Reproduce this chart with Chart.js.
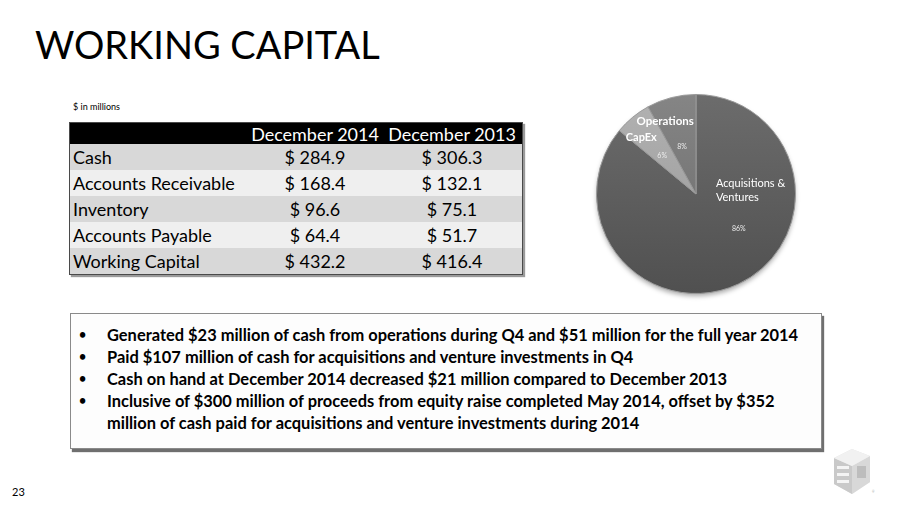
<!DOCTYPE html>
<html>
<head>
<meta charset="utf-8">
<script src="https://cdn.jsdelivr.net/npm/chart.js@4.4.1/dist/chart.umd.min.js"></script>
<style>
html, body { margin: 0; padding: 0; background: #fff; }
body { width: 911px; height: 509px; position: relative; overflow: hidden; font-family: Lato, "Open Sans", sans-serif; color: #000; }
.txt { position: absolute; white-space: nowrap; line-height: 1; }
#pieBox { position: absolute; left: 586px; top: 84px; width: 220px; height: 220px; }
#tbl { position: absolute; left: 69px; top: 122px; width: 454px; border-collapse: collapse; border: 1px solid #4a4a4a; box-shadow: 2px 2px 1px #9a9a9a; }
#tbl td { padding: 0 3px; white-space: nowrap; line-height: 1; }
#tbl tr.head td { background: #000; color: #fff; height: 21px; }
#tbl tr.dark td { background: #d8d8d8; height: 26px; }
#tbl tr.light td { background: #efefef; height: 26px; }
#tbl td.v { text-align: center; }
#box { position: absolute; left: 70px; top: 313px; width: 750px; height: 134px; border: 1px solid #8a8a8a; background: #fdfdfd; box-shadow: 2px 3px 1px #6f6f6f; }
.bl { position: absolute; white-space: nowrap; line-height: 1; font-weight: 700; }
</style>
</head>
<body>
<div id="title" class="txt">WORKING CAPITAL</div>
<div id="unit" class="txt">$ in millions</div>
<table id="tbl"></table>
<div id="pieBox"><canvas id="pie"></canvas></div>
<div id="box"></div>
<div id="page" class="txt">23</div>
<svg id="logo" style="position:absolute;left:830px;top:446px" width="46" height="52" viewBox="0 0 46 52">
  <polygon points="4,12 22,3 40,10 40,36 22,48 4,38" fill="#e4e4e4"/>
  <polygon points="4,12 22,20 22,48 4,38" fill="#c9c9c9"/>
  <polygon points="22,20 40,10 40,36 22,48" fill="#d8d8d8"/>
  <polygon points="4,12 22,3 40,10 22,20" fill="#f1f1f1"/>
  <rect x="7" y="20" width="12" height="3" fill="#f4f4f4"/>
  <rect x="7" y="27" width="12" height="3" fill="#f4f4f4"/>
  <rect x="7" y="34" width="12" height="3" fill="#f4f4f4"/>
  <rect x="27" y="20" width="9" height="12" fill="#bdbdbd"/>
  <text x="42" y="47" font-size="3" fill="#999">&#174;</text>
</svg>

<script>
// pie data
var sliceLabels = ["Acquisitions & Ventures", "CapEx", "Operations"];
var sliceValues = [86, 6, 8];

// table data
var colHeads = ["December 2014", "December 2013"];
var rowNames = ["Cash", "Accounts Receivable", "Inventory", "Accounts Payable", "Working Capital"];
var dec2014 = [284.9, 168.4, 96.6, 64.4, 432.2];
var dec2013 = [306.3, 132.1, 75.1, 51.7, 416.4];

// bullet text (lines as laid out on the slide)
var bullets = [
  ["Generated $23 million of cash from operations during Q4 and $51 million for the full year 2014"],
  ["Paid $107 million of cash for acquisitions and venture investments in Q4"],
  ["Cash on hand at December 2014 decreased $21 million compared to December 2013"],
  ["Inclusive of $300 million of proceeds from equity raise completed May 2014, offset by $352",
   "million of cash paid for acquisitions and venture investments during 2014"]
];

var FAM = 'Lato, "Open Sans", sans-serif';
var mctx = document.createElement("canvas").getContext("2d");

// font size that makes text span the given width
function fitSize(text, weight, width) {
  mctx.font = weight + " 100px " + FAM;
  return 100 * width / mctx.measureText(text).width;
}

// place an element so its baseline sits at y (Lato: baseline ~0.887em below top at line-height 1)
function place(el, x, baseline, size) {
  el.style.fontSize = size + "px";
  el.style.left = x + "px";
  el.style.top = (baseline - 0.887 * size) + "px";
}

place(document.getElementById("title"), 35, 60, fitSize("WORKING CAPITAL", "400", 345));
place(document.getElementById("unit"), 73, 110, 9);
place(document.getElementById("page"), 12, 496, 11);

// ---- table ----
var tSize = fitSize("Accounts Receivable", "400", 162);
var tbl = document.getElementById("tbl");
var html = '<tr class="head"><td style="width:172px"></td>' +
  '<td class="v" style="width:128px">' + colHeads[0] + '</td>' +
  '<td class="v">' + colHeads[1] + '</td></tr>';
for (var i = 0; i < rowNames.length; i++) {
  html += '<tr class="' + (i % 2 == 0 ? 'dark' : 'light') + '"><td>' + rowNames[i] + '</td>' +
    '<td class="v">$ ' + dec2014[i].toFixed(1) + '</td>' +
    '<td class="v">$ ' + dec2013[i].toFixed(1) + '</td></tr>';
}
tbl.innerHTML = html;
tbl.style.fontSize = tSize + "px";

// ---- bullets ----
var bSize = fitSize(bullets[0][0], "700", 693);
var line = 0;
bullets.forEach(function (b) {
  var dot = document.createElement("div");
  dot.className = "bl";
  dot.textContent = "\u2022";
  document.body.appendChild(dot);
  place(dot, 79, 340 + line * 22, bSize * 0.75);
  b.forEach(function (t) {
    var el = document.createElement("div");
    el.className = "bl";
    el.textContent = t;
    document.body.appendChild(el);
    place(el, 107, 342 + line * 22, bSize);
    line++;
  });
});

// ---- pie ----
Chart.defaults.font.family = FAM;

function shade(hex, amt) {
  var n = parseInt(hex.slice(1), 16);
  var c = [(n >> 16) & 255, (n >> 8) & 255, n & 255].map(function (v) {
    return Math.max(0, Math.min(255, v + amt));
  });
  return "rgb(" + c.join(",") + ")";
}
var baseGrey = ["#626262", "#a8a8a8", "#7b7b7b"];

// label spots as fractions of the radius from the centre
var spots = [
  { name: [0.20, -0.11], pct: [0.43, 0.35], bold: false, size: 11, align: "left", lines: ["Acquisitions &", "Ventures"] },
  { name: [-0.55, -0.57], pct: [-0.34, -0.38], bold: true, size: 11, align: "center", lines: ["CapEx"] },
  { name: [-0.31, -0.73], pct: [-0.14, -0.47], bold: true, size: 11.5, align: "center", lines: ["Operations"] }
];

var pieLabels = {
  id: "pieLabels",
  beforeDatasetsDraw: function (chart) {
    var arc = chart.getDatasetMeta(0).data[0];
    if (!arc) return;
    var c = chart.ctx;
    c.save();
    c.shadowColor = "rgba(0,0,0,0.35)";
    c.shadowBlur = 5;
    c.shadowOffsetY = 3;
    c.fillStyle = "#5a5a5a";
    c.beginPath();
    c.arc(arc.x, arc.y, arc.outerRadius - 0.5, 0, Math.PI * 2);
    c.fill();
    c.restore();
  },
  afterDatasetsDraw: function (chart) {
    var c = chart.ctx;
    var total = sliceValues.reduce(function (a, b) { return a + b; }, 0);
    chart.getDatasetMeta(0).data.forEach(function (arc, i) {
      var s = spots[i], R = arc.outerRadius;
      c.save();
      c.fillStyle = "#fff";
      c.textBaseline = "middle";
      c.textAlign = s.align;
      c.font = (s.bold ? "700 " : "400 ") + s.size + "px " + FAM;
      s.lines.forEach(function (t, k) {
        c.fillText(t, arc.x + s.name[0] * R, arc.y + s.name[1] * R + k * 14);
      });
      c.fillStyle = "#ececec";
      c.textAlign = "center";
      c.font = "400 7px " + FAM;
      c.fillText(Math.round(sliceValues[i] / total * 100) + "%", arc.x + s.pct[0] * R, arc.y + s.pct[1] * R);
      c.restore();
    });
  }
};

new Chart(document.getElementById("pie").getContext("2d"), {
  type: "pie",
  plugins: [pieLabels],
  data: {
    labels: sliceLabels,
    datasets: [{
      data: sliceValues,
      backgroundColor: function (ctx) {
        var ch = ctx.chart, a = ch.chartArea;
        if (!a) return baseGrey[ctx.dataIndex];
        var g = ch.ctx.createLinearGradient(0, a.top, 0, a.bottom);
        g.addColorStop(0, shade(baseGrey[ctx.dataIndex], 10));
        g.addColorStop(1, shade(baseGrey[ctx.dataIndex], -18));
        return g;
      },
      borderColor: "#9a9a9a",
      borderWidth: 1,
      hoverOffset: 0
    }]
  },
  options: {
    responsive: true,
    maintainAspectRatio: false,
    animation: false,
    events: [],
    layout: { padding: 10 },
    plugins: {
      legend: { display: false },
      tooltip: { enabled: false }
    }
  }
});
</script>
</body>
</html>
